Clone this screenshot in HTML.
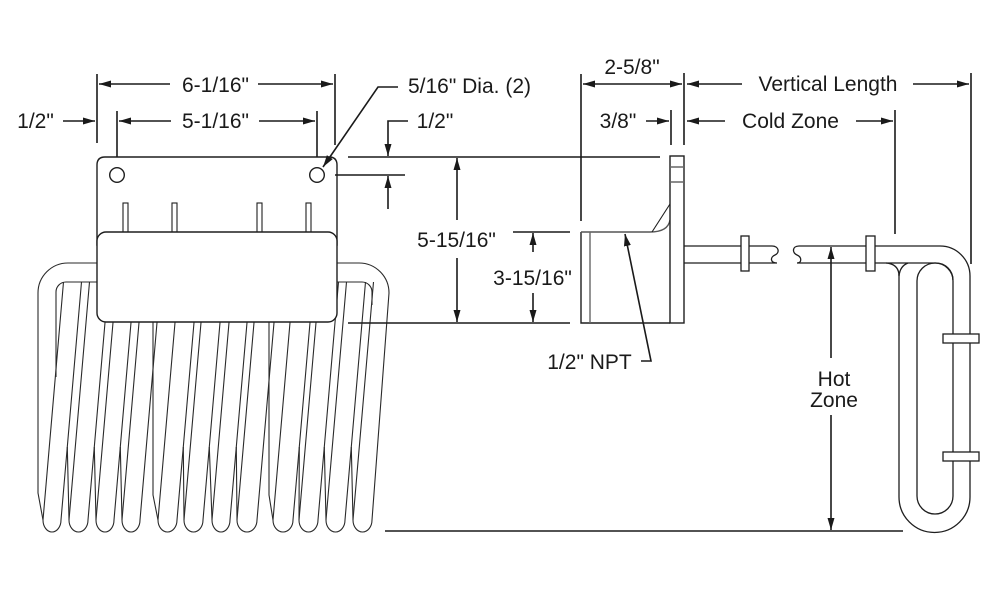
<!DOCTYPE html>
<html><head><meta charset="utf-8"><style>
html,body{margin:0;padding:0;background:#fff;}
svg{display:block;}
text{font-family:"Liberation Sans",Arial,sans-serif;font-size:21px;fill:#1a1a1a;text-anchor:middle;}
</style></head><body>
<svg width="1000" height="600" viewBox="0 0 1000 600" xmlns="http://www.w3.org/2000/svg">
<defs>
<marker id="a" markerUnits="userSpaceOnUse" markerWidth="12" markerHeight="8" refX="12" refY="4" orient="auto"><path d="M0,0.5 L12,4 L0,7.5 z" fill="#1a1a1a"/></marker>
</defs>
<rect width="1000" height="600" fill="#fff"/>

<!-- COILS -->
<g stroke="#2a2a2a" stroke-width="1.1" fill="none">
<path d="M97,263 L68,263 A30,30 0 0 0 38,293 L38,493 L43,520"/>
<path d="M97,282 L66,282 A10,10 0 0 0 56,292 L56,377"/>
<path d="M337,263 L359,263 A30,30 0 0 1 389,293 L372,520"/>
<path d="M337,282 L362,282 A10,10 0 0 1 372,292 L372,305"/>
<path d="M153,322 L153,495 L158,520"/>
<path d="M269,322 L269,495 L273,520"/>
<!-- legs -->
<path d="M43,520 L63.5,282 M61,520 L81.5,282
M69,520 L89.5,282 M88,520 L108.5,282
M96,520 L116.5,282 M114,520 L134.5,282
M122,520 L142.5,282 M140,520 L160.5,282
M158,520 L178.5,282 M177,520 L197.5,282
M184,520 L204.5,282 M203,520 L223.5,282
M212,520 L232.5,282 M230,520 L250.5,282
M237,520 L257.5,282 M257,520 L277.5,282
M273,520 L293.5,282 M293,520 L313.5,282
M299,520 L319.5,282 M318,520 L338.5,282
M326,520 L346.5,282 M345,520 L365.5,282
M353,520 L373.5,282"/>
<!-- back lines -->
<path d="M69,520 L67.3,447 M96,520 L94.3,447 M122,520 L120.3,447
M184,520 L183.3,447 M212,520 L209.3,447 M237,520 L236.3,447
M299,520 L299.3,447 M326,520 L324.3,447 M353,520 L351.3,447"/>
<!-- bottoms -->
<path d="M43,520 A9,12 0 0 0 61,520
M69,520 A9.5,12 0 0 0 88,520
M96,520 A9,12 0 0 0 114,520
M122,520 A9,12 0 0 0 140,520
M158,520 A9.5,12 0 0 0 177,520
M184,520 A9.5,12 0 0 0 203,520
M212,520 A9,12 0 0 0 230,520
M237,520 A10,12 0 0 0 257,520
M273,520 A10,12 0 0 0 293,520
M299,520 A9.5,12 0 0 0 318,520
M326,520 A9.5,12 0 0 0 345,520
M353,520 A9.5,12 0 0 0 372,520"/>
</g>

<!-- PLATE + BOX -->
<g stroke="#1e1e1e" stroke-width="1.4" fill="#fff">
<path d="M97,245 L97,165 Q97,157 105,157 L329,157 Q337,157 337,165 L337,245 Z"/>
<circle cx="117" cy="175" r="7.3"/>
<circle cx="317" cy="175" r="7.3"/>
<rect x="123" y="203" width="5" height="32" stroke-width="1.1"/>
<rect x="172" y="203" width="5" height="32" stroke-width="1.1"/>
<rect x="257" y="203" width="5" height="32" stroke-width="1.1"/>
<rect x="306" y="203" width="5" height="32" stroke-width="1.1"/>
<rect x="97" y="232" width="240" height="90" rx="9" ry="9"/>
</g>

<!-- DIMENSION LINES -->
<g stroke="#1a1a1a" stroke-width="1.6" fill="none">
<!-- extension lines left -->
<path d="M97,74 L97,143 M335,74 L335,145 M117,111 L117,157 M317,111 L317,157"/>
<path d="M170,84 L99,84" marker-end="url(#a)"/>
<path d="M258,84 L333,84" marker-end="url(#a)"/>
<path d="M171,121 L119,121" marker-end="url(#a)"/>
<path d="M259,121 L315,121" marker-end="url(#a)"/>
<path d="M63,121 L95,121" marker-end="url(#a)"/>
<!-- hole leader -->
<path d="M398,87 L378,87 L323,167" marker-end="url(#a)"/>
<!-- 1/2 right -->
<path d="M408,121 L388,121 L388,156" marker-end="url(#a)"/>
<path d="M388,209 L388,176" marker-end="url(#a)"/>
<path d="M348,157 L660,157 M335,175 L405,175 M348,323 L570,323 M513,232 L570,232"/>
<!-- 5-15/16 -->
<path d="M457,220 L457,158" marker-end="url(#a)"/>
<path d="M457,258 L457,322" marker-end="url(#a)"/>
<!-- 3-15/16 -->
<path d="M533,252 L533,233" marker-end="url(#a)"/>
<path d="M533,293 L533,322" marker-end="url(#a)"/>
<!-- 2-5/8 -->
<path d="M581,74 L581,221 M684,73 L684,145 M671,110 L671,145"/>
<path d="M632,84 L583,84" marker-end="url(#a)"/>
<path d="M632,84 L682,84" marker-end="url(#a)"/>
<path d="M646,121 L669,121" marker-end="url(#a)"/>
<!-- cold / vertical -->
<path d="M725,121 L687,121" marker-end="url(#a)"/>
<path d="M856,121 L893,121" marker-end="url(#a)"/>
<path d="M742,84 L687,84" marker-end="url(#a)"/>
<path d="M913,84 L969,84" marker-end="url(#a)"/>
<path d="M895,110 L895,234 M971,73 L971,264"/>
<!-- hot zone -->
<path d="M831,358 L831,247" marker-end="url(#a)"/>
<path d="M831,415 L831,530" marker-end="url(#a)"/>
<path d="M385,531 L903,531"/>
<!-- NPT leader -->
<path d="M641,361 L651,361 L625,234" marker-end="url(#a)"/>
</g>

<!-- FITTING -->
<g stroke="#1e1e1e" stroke-width="1.4" fill="none">
<path d="M581,232 L581,323 L670,323"/>
<path d="M581,232 L650,232 Q668,232 670,220" stroke="#555"/>
<path d="M590,232 L590,323" stroke="#666"/>
<path d="M652,232 L670,204" stroke-width="1.1"/>
<rect x="670" y="156" width="14" height="167" fill="#fff"/>
<path d="M670,167 L684,167 M670,182 L684,182" stroke="#666"/>
</g>

<!-- PIPE + U TUBE -->
<g stroke="#1e1e1e" stroke-width="1.3" fill="none">
<path d="M684,246 L772,246 C779,246 780,253 775,255 C770,257 770,263 777,263 L684,263"/>
<path d="M866,246 L799,246 C792,246 792,253 797,255 C802,257 802,263 797,263 L866,263"/>
<path d="M875,246 L940,246 A30,30 0 0 1 970,276 L970,497 A35.5,35.5 0 0 1 899,497 L899,274"/>
<path d="M875,263 L936,263 A17,17 0 0 1 953,280"/>
<path d="M886,263 Q899,264 899,276 M908,263 Q900,266 899,276"/>
<path d="M917,496 L917,281 A18,18 0 0 1 953,281 L953,496 A18,18 0 0 1 917,496 Z"/>
<rect x="741" y="236" width="8" height="35" fill="#fff"/>
<rect x="866" y="236" width="9" height="35" fill="#fff"/>
<rect x="943" y="334" width="36" height="9" fill="#fff"/>
<rect x="943" y="452" width="36" height="9" fill="#fff"/>
</g>

<!-- TEXT -->
<text x="215.5" y="92">6-1/16"</text>
<text x="215.5" y="128">5-1/16"</text>
<text x="35.5" y="128">1/2"</text>
<text x="469.5" y="93">5/16" Dia. (2)</text>
<text x="435" y="128">1/2"</text>
<text x="456.5" y="247">5-15/16"</text>
<text x="532.5" y="285">3-15/16"</text>
<text x="632" y="74">2-5/8"</text>
<text x="618" y="128">3/8"</text>
<text x="589.5" y="369">1/2" NPT</text>
<text x="828" y="91">Vertical Length</text>
<text x="790.5" y="128">Cold Zone</text>
<text x="834" y="386">Hot</text>
<text x="834" y="407">Zone</text>
</svg>
</body></html>
